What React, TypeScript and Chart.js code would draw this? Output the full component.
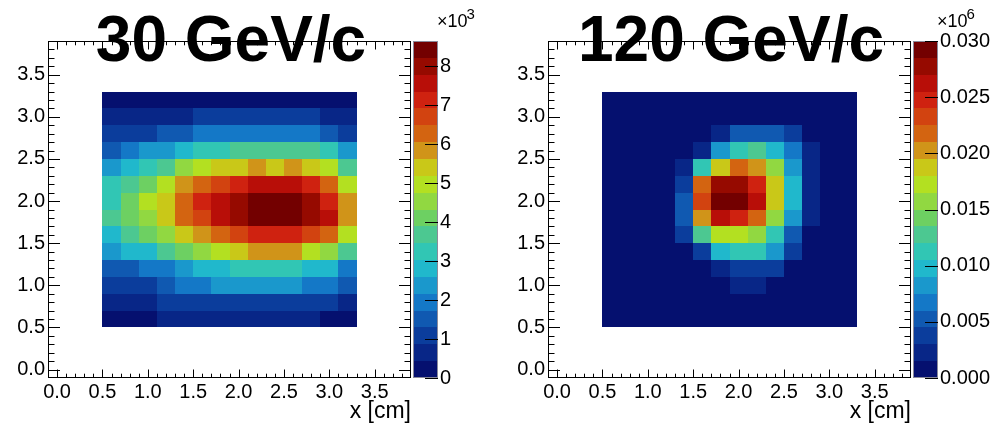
import React, { useEffect, useRef } from "react";
import { Chart, registerables } from "chart.js";

Chart.register(...registerables);

const FONT = "'Liberation Sans', Arial, Helvetica, sans-serif";

// Bin edges (cm), same for x and y
const binEdges = [0.5, 0.7, 0.9, 1.1, 1.3, 1.5, 1.7, 1.9, 2.1, 2.3, 2.5, 2.7, 2.9, 3.1, 3.3];
const axisTickValues = [0, 0.5, 1.0, 1.5, 2.0, 2.5, 3.0, 3.5];
const axisTickLabels = ["0.0", "0.5", "1.0", "1.5", "2.0", "2.5", "3.0", "3.5"];
const AXIS_MIN = -0.1;
const AXIS_MAX = 3.9;
const xTitle = "x [cm]";

const title30 = "30 GeV/c";
const title120 = "120 GeV/c";

// Left panel: counts in units of 10^3, rows listed from top (y 3.1-3.3) to bottom (y 0.5-0.7)
const counts30: number[][] = [
  [0.21, 0.25, 0.28, 0.30, 0.32, 0.33, 0.34, 0.34, 0.33, 0.32, 0.30, 0.28, 0.25, 0.21],
  [0.62, 0.70, 0.75, 0.80, 0.85, 0.95, 1.00, 1.02, 1.03, 1.02, 1.00, 0.95, 0.82, 0.66],
  [0.95, 1.05, 1.15, 1.35, 1.45, 1.80, 1.90, 1.95, 1.98, 1.96, 1.92, 1.85, 1.40, 1.10],
  [1.50, 1.90, 2.30, 2.45, 2.90, 3.10, 3.30, 3.55, 3.65, 3.70, 3.65, 3.55, 3.20, 2.35],
  [2.40, 2.85, 3.20, 3.60, 4.55, 5.00, 5.40, 5.60, 5.90, 5.60, 5.95, 5.50, 5.05, 3.70],
  [3.10, 3.70, 4.10, 4.95, 5.85, 6.30, 6.75, 7.10, 7.60, 7.75, 7.65, 7.20, 6.35, 4.95],
  [3.20, 4.05, 4.90, 5.50, 6.35, 7.10, 7.70, 8.15, 8.55, 8.60, 8.55, 8.20, 7.20, 5.90],
  [3.55, 4.15, 4.60, 5.50, 6.25, 6.80, 7.55, 8.05, 8.50, 8.60, 8.50, 8.10, 7.60, 5.95],
  [2.80, 3.70, 4.15, 4.55, 5.45, 5.90, 6.30, 6.75, 7.10, 7.20, 7.15, 6.80, 6.30, 4.95],
  [2.40, 2.80, 2.90, 3.55, 4.10, 4.55, 5.00, 5.50, 5.85, 5.95, 5.90, 5.05, 4.60, 3.60],
  [1.45, 1.60, 1.85, 2.00, 2.40, 2.70, 2.90, 3.10, 3.20, 3.25, 3.15, 2.90, 2.75, 1.90],
  [0.95, 1.05, 1.20, 1.45, 1.80, 1.95, 2.20, 2.30, 2.35, 2.35, 2.25, 2.05, 1.85, 1.40],
  [0.55, 0.65, 0.80, 0.95, 1.05, 1.15, 1.20, 1.25, 1.25, 1.25, 1.20, 1.10, 0.90, 0.60],
  [0.20, 0.30, 0.40, 0.45, 0.55, 0.60, 0.65, 0.65, 0.65, 0.60, 0.55, 0.45, 0.35, 0.25],
];

// Right panel: counts in units of 10^6, rows from top to bottom
const counts120: number[][] = [
  [0.0001, 0.0001, 0.0001, 0.0001, 0.0001, 0.0002, 0.0002, 0.0002, 0.0002, 0.0002, 0.0001, 0.0001, 0.0001, 0.0001],
  [0.0001, 0.0001, 0.0001, 0.0002, 0.0003, 0.0004, 0.0005, 0.0006, 0.0006, 0.0005, 0.0004, 0.0003, 0.0002, 0.0001],
  [0.0001, 0.0001, 0.0002, 0.0004, 0.0007, 0.0012, 0.0021, 0.0052, 0.0055, 0.0050, 0.0035, 0.0012, 0.0004, 0.0001],
  [0.0001, 0.0002, 0.0003, 0.0007, 0.0014, 0.0022, 0.0083, 0.0112, 0.0128, 0.0097, 0.0068, 0.0020, 0.0006, 0.0002],
  [0.0001, 0.0002, 0.0004, 0.0010, 0.0024, 0.0110, 0.0188, 0.0218, 0.0203, 0.0157, 0.0082, 0.0025, 0.0008, 0.0002],
  [0.0001, 0.0002, 0.0005, 0.0012, 0.0036, 0.0217, 0.0278, 0.0280, 0.0247, 0.0186, 0.0096, 0.0026, 0.0008, 0.0002],
  [0.0001, 0.0002, 0.0005, 0.0013, 0.0050, 0.0232, 0.0295, 0.0292, 0.0262, 0.0185, 0.0095, 0.0025, 0.0008, 0.0002],
  [0.0001, 0.0002, 0.0005, 0.0012, 0.0049, 0.0201, 0.0262, 0.0247, 0.0216, 0.0156, 0.0080, 0.0022, 0.0007, 0.0002],
  [0.0001, 0.0002, 0.0004, 0.0010, 0.0036, 0.0127, 0.0170, 0.0172, 0.0155, 0.0110, 0.0051, 0.0014, 0.0005, 0.0001],
  [0.0001, 0.0001, 0.0003, 0.0007, 0.0014, 0.0036, 0.0096, 0.0110, 0.0108, 0.0080, 0.0034, 0.0010, 0.0003, 0.0001],
  [0.0001, 0.0001, 0.0002, 0.0004, 0.0009, 0.0014, 0.0023, 0.0037, 0.0038, 0.0035, 0.0013, 0.0005, 0.0002, 0.0001],
  [0.0001, 0.0001, 0.0001, 0.0002, 0.0004, 0.0008, 0.0013, 0.0021, 0.0020, 0.0012, 0.0006, 0.0003, 0.0001, 0.0001],
  [0.0001, 0.0001, 0.0001, 0.0001, 0.0002, 0.0003, 0.0005, 0.0007, 0.0007, 0.0005, 0.0003, 0.0002, 0.0001, 0.0001],
  [0.0001, 0.0001, 0.0001, 0.0001, 0.0001, 0.0002, 0.0002, 0.0003, 0.0003, 0.0002, 0.0001, 0.0001, 0.0001, 0.0001],
];

const zTicks30 = [0, 1, 2, 3, 4, 5, 6, 7, 8];
const zTickLabels30 = ["0", "1", "2", "3", "4", "5", "6", "7", "8"];
const zMax30 = 8.65;
const zExp30 = "3";

const zTicks120 = [0, 0.005, 0.01, 0.015, 0.02, 0.025, 0.03];
const zTickLabels120 = ["0.000", "0.005", "0.010", "0.015", "0.020", "0.025", "0.030"];
const zMax120 = 0.03;
const zExp120 = "6";

// 20-step colour palette, low -> high
const palette = [
  "#05106f", "#082687", "#0b3d9c", "#1059b1", "#1478c7", "#1a98cc",
  "#20b8cc", "#31c6b4", "#4cc891", "#6dd062", "#91d841", "#b3e021",
  "#c9c818", "#d09419", "#d36411", "#d24310", "#cf2210", "#b80e08",
  "#960a00", "#730000",
];

type PanelProps = {
  left: number;
  width: number;
  counts: number[][];
  zMax: number;
  zTicks: number[];
  zTickLabels: string[];
  zExp: string;
  title: string;
};

function Panel(props: PanelProps) {
  const ref = useRef<HTMLCanvasElement>(null);
  useEffect(() => {
    const { width, counts, zMax, zTicks, zTickLabels, zExp, title } = props;
    const canvas = ref.current!;
    const nRows = counts.length;
    const cells: any[] = [];
    counts.forEach((row, r) =>
      row.forEach((v, c) => {
        const y0 = binEdges[nRows - 1 - r];
        const y1 = binEdges[nRows - r];
        cells.push({ x: (binEdges[c] + binEdges[c + 1]) / 2, y: (y0 + y1) / 2, v, x0: binEdges[c], x1: binEdges[c + 1], y0, y1 });
      })
    );
    const nColors = palette.length;
    const AREA_RIGHT = 411;

    const plugin = {
      id: "root2d",
      beforeDatasetsDraw(chart: any) {
        const { ctx, scales } = chart;
        const xs = scales.x, ys = scales.y;
        ctx.save();
        for (const c of chart.data.datasets[0].data) {
          const px0 = Math.round(xs.getPixelForValue(c.x0));
          const px1 = Math.round(xs.getPixelForValue(c.x1));
          const py0 = Math.round(ys.getPixelForValue(c.y0));
          const py1 = Math.round(ys.getPixelForValue(c.y1));
          const idx = Math.max(0, Math.min(nColors - 1, Math.floor((c.v / zMax) * nColors)));
          ctx.fillStyle = palette[idx];
          ctx.fillRect(px0, py1, px1 - px0, py0 - py1);
        }
        ctx.restore();
      },
      afterDraw(chart: any) {
        const { ctx, chartArea: a, scales } = chart;
        const xs = scales.x, ys = scales.y, zs = scales.z;
        ctx.save();
        // frame
        ctx.strokeStyle = "#000";
        ctx.lineWidth = 1;
        const L = Math.round(a.left), R = Math.round(a.right), T = Math.round(a.top), B = Math.round(a.bottom);
        ctx.strokeRect(L + 0.5, T + 0.5, R - L - 1, B - T - 1);
        // ticks (major from tick list, minor = 5 subdivisions)
        const ticks: { v: number; major: boolean }[] = [];
        axisTickValues.forEach((t) => {
          ticks.push({ v: t, major: true });
          const step = (axisTickValues[1] - axisTickValues[0]) / 5;
          for (let j = 1; j < 5; j++) {
            const v = t + j * step;
            if (v < AXIS_MAX - 1e-6) ticks.push({ v, major: false });
          }
        });
        ctx.beginPath();
        for (const t of ticks) {
          const px = Math.round(xs.getPixelForValue(t.v)) + 0.5;
          const lx = t.major ? 8.5 : 4.3;
          ctx.moveTo(px, B);
          ctx.lineTo(px, B - lx);
          ctx.moveTo(px, T);
          ctx.lineTo(px, T + lx);
          const py = Math.round(ys.getPixelForValue(t.v)) + 0.5;
          const ly = t.major ? 12 : 6.5;
          ctx.moveTo(L, py);
          ctx.lineTo(L + ly, py);
          ctx.moveTo(R, py);
          ctx.lineTo(R - ly, py);
        }
        ctx.stroke();

        // colour bar
        const bx0 = R + 2, bx1 = R + 27;
        for (let k = 0; k < nColors; k++) {
          const yb = Math.round(zs.getPixelForValue((k * zMax) / nColors));
          const yt = Math.round(zs.getPixelForValue(((k + 1) * zMax) / nColors));
          ctx.fillStyle = palette[k];
          ctx.fillRect(bx0, yt, bx1 - bx0, yb - yt);
        }
        ctx.strokeStyle = "#8a8a9a";
        ctx.strokeRect(bx0 + 0.5, Math.round(zs.top) + 0.5, bx1 - bx0 - 1, Math.round(zs.bottom - zs.top) - 1);
        ctx.strokeStyle = "#000";
        ctx.beginPath();
        for (const t of zTicks) {
          const py = Math.round(zs.getPixelForValue(t)) + 0.5;
          ctx.moveTo(bx1, py);
          ctx.lineTo(bx1 - 13, py);
        }
        ctx.stroke();

        // exponent label
        ctx.fillStyle = "#000";
        ctx.textAlign = "left";
        ctx.textBaseline = "alphabetic";
        ctx.font = `18px ${FONT}`;
        const ex = R + 26;
        ctx.fillText("\u00d710", ex, 26.5);
        const w = ctx.measureText("\u00d710").width;
        ctx.font = `15px ${FONT}`;
        ctx.fillText(zExp, ex + w - 1, 18.5);

        // big title
        ctx.font = `bold 64px ${FONT}`;
        ctx.textAlign = "center";
        ctx.fillText(title, 231, 61);
        ctx.restore();
      },
    };

    const tickFont = { family: FONT, size: 20 };
    const chart = new Chart(canvas, {
      type: "scatter",
      data: { datasets: [{ data: cells, pointRadius: 0, pointHoverRadius: 0, showLine: false }] as any },
      options: {
        animation: false,
        responsive: false,
        devicePixelRatio: 1,
        events: [],
        layout: { padding: { top: 27, left: 0, right: 0, bottom: 0 } },
        plugins: { legend: { display: false }, tooltip: { enabled: false }, title: { display: false } },
        scales: {
          x: {
            type: "linear",
            position: "bottom",
            min: AXIS_MIN,
            max: AXIS_MAX,
            grid: { display: false, drawTicks: false },
            border: { display: false },
            afterBuildTicks: (s: any) => { s.ticks = axisTickValues.map((v) => ({ value: v })); },
            afterFit: (s: any) => { s.height = 49; },
            ticks: { callback: (_v: any, i: number) => axisTickLabels[i], color: "#000", font: tickFont, padding: 2, maxRotation: 0, autoSkip: false },
            title: { display: true, text: xTitle, align: "end", color: "#000", font: { family: FONT, size: 23 }, padding: { top: 0, bottom: 2 } },
          },
          y: {
            type: "linear",
            position: "left",
            min: AXIS_MIN,
            max: AXIS_MAX,
            grid: { display: false, drawTicks: false },
            border: { display: false },
            afterBuildTicks: (s: any) => { s.ticks = axisTickValues.map((v) => ({ value: v })); },
            afterFit: (s: any) => { s.width = 48; },
            ticks: { callback: (_v: any, i: number) => axisTickLabels[i], color: "#000", font: tickFont, padding: 3, autoSkip: false },
          },
          z: {
            type: "linear",
            position: "right",
            min: 0,
            max: zMax,
            grid: { display: false, drawTicks: false },
            border: { display: false },
            afterBuildTicks: (s: any) => { s.ticks = zTicks.map((v) => ({ value: v })); },
            afterFit: (s: any) => { s.width = width - AREA_RIGHT; },
            ticks: { callback: (_v: any, i: number) => zTickLabels[i], color: "#000", font: tickFont, padding: 29, autoSkip: false },
          },
        },
      } as any,
      plugins: [plugin],
    });
    return () => chart.destroy();
  }, []);
  return (
    <canvas
      ref={ref}
      width={props.width}
      height={427}
      style={{ position: "absolute", left: props.left, top: 0, width: props.width, height: 427 }}
    />
  );
}

export default function App() {
  return (
    <div style={{ position: "fixed", left: 0, top: 0, width: 994, height: 427, background: "#fff", overflow: "hidden" }}>
      <Panel left={0} width={500} counts={counts30} zMax={zMax30} zTicks={zTicks30} zTickLabels={zTickLabels30} zExp={zExp30} title={title30} />
      <Panel left={500} width={494} counts={counts120} zMax={zMax120} zTicks={zTicks120} zTickLabels={zTickLabels120} zExp={zExp120} title={title120} />
    </div>
  );
}
